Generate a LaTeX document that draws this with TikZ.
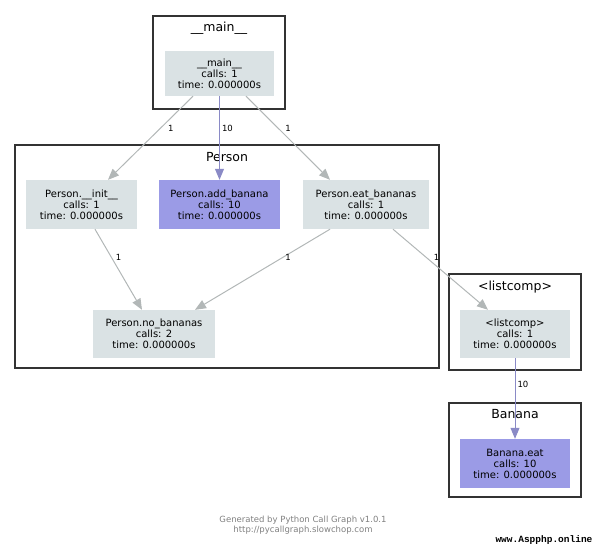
\documentclass[tikz,border=0pt]{standalone}
\usepackage{fontspec}
\setmainfont{DejaVu Sans}
\setmonofont{Liberation Mono}
\usetikzlibrary{positioning,calc,arrows.meta}
\definecolor{funcgray}{HTML}{DAE2E4}
\definecolor{funchot}{HTML}{9B9BE6}
\definecolor{callgray}{HTML}{B2B7B7}
\definecolor{callhot}{HTML}{8A8AC6}
\definecolor{boxline}{HTML}{333333}
\definecolor{footgray}{HTML}{808080}
\tikzset{
	func/.style={fill=funcgray, align=center, inner sep=0pt, font=\fontsize{10}{11}\selectfont},
	hotfunc/.style={func, fill=funchot},
	group/.style={draw=boxline, line width=2.5pt, inner sep=0pt},
	grouptitle/.style={font=\fontsize{12.5}{14}\selectfont, inner sep=0pt},
	call/.style={draw=callgray, line width=1pt, -{Triangle[length=11pt,width=9pt]}},
	hotcall/.style={call, draw=callhot},
	count/.style={font=\fontsize{8.5}{9}\selectfont, inner sep=2pt, anchor=west}
}

\begin{document}
\begin{tikzpicture}[x=1pt,y=-1pt]
		\useasboundingbox (0,0) rectangle (597,547);

		% clusters
		\node[group, minimum width=132pt, minimum height=93pt] (mainbox) at (219,62.5) {};
		\node[group, minimum width=424pt, minimum height=223pt] (personbox) at (227,256.5) {};
		\node[group, minimum width=132pt, minimum height=96pt] (lcbox) at (515,322) {};
		\node[group, minimum width=132pt, minimum height=94pt] (bananabox) at (515,450) {};

		\node[grouptitle, below=7pt of mainbox.north] (maintitle) {\_\_main\_\_};
		\node[grouptitle, below=8pt of personbox.north] (persontitle) {Person};
		\node[grouptitle, below=8pt of lcbox.north] (lctitle) {<listcomp>};
		\node[grouptitle, below=7pt of bananabox.north] (bananatitle) {Banana};

		% functions
		\node[func, minimum width=109pt, minimum height=45pt] (main) at (219.5,73.5) {\_\_main\_\_\\calls: 1\\time: 0.000000s};
		\node[func, minimum width=111pt, minimum height=49pt] (init) at (81.5,204.5) {Person.\_\_init\_\_\\calls: 1\\time: 0.000000s};
		\node[hotfunc, minimum width=121pt, minimum height=49pt] (add) at (219.5,204.5) {Person.add\_banana\\calls: 10\\time: 0.000000s};
		\node[func, minimum width=126pt, minimum height=49pt] (eat) at (366,204.5) {Person.eat\_bananas\\calls: 1\\time: 0.000000s};
		\node[func, minimum width=122pt, minimum height=48pt] (no) at (154,334) {Person.no\_bananas\\calls: 2\\time: 0.000000s};
		\node[func, minimum width=110pt, minimum height=48pt] (lc) at (515,334) {<listcomp>\\calls: 1\\time: 0.000000s};
		\node[hotfunc, minimum width=110pt, minimum height=49pt] (beat) at (515,463.5) {Banana.eat\\calls: 10\\time: 0.000000s};

		% calls
		\draw[call] ($(main.south)+(-26.5,0)$) -- node[count, pos=0.38, xshift=5pt] {1} ($(init.north)+(26.5,0)$);
		\draw[hotcall] (main.south) -- node[count, pos=0.38] {10} (add.north);
		\draw[call] ($(main.south)+(26.5,0)$) -- node[count, pos=0.38, xshift=5pt] {1} ($(eat.north)+(-36,0)$);
		\draw[call] ($(init.south)+(13.5,0)$) -- node[count, pos=0.35, xshift=2pt] {1} ($(no.north)+(-12,0)$);
		\draw[call] ($(eat.south)+(-36,0)$) -- node[count, pos=0.35] {1} ($(no.north)+(41,0)$);
		\draw[call] ($(eat.south)+(27,0)$) -- node[count, pos=0.35, xshift=5pt] {1} ($(lc.north)+(-27,0)$);
		\draw[hotcall] (lc.south) -- node[count, pos=0.33] {10} (beat.north);

		% footer
		\node[font=\fontsize{8.5}{10}\selectfont, text=footgray, align=center, inner sep=0pt] (footer) at (303,525) {Generated by Python Call Graph v1.0.1\\http://pycallgraph.slowchop.com};
		\node[font=\ttfamily\bfseries\fontsize{9.5}{10}\selectfont, inner sep=0pt] (mark) at (544,540) {www.Aspphp.online};
	\end{tikzpicture}
\end{document}
